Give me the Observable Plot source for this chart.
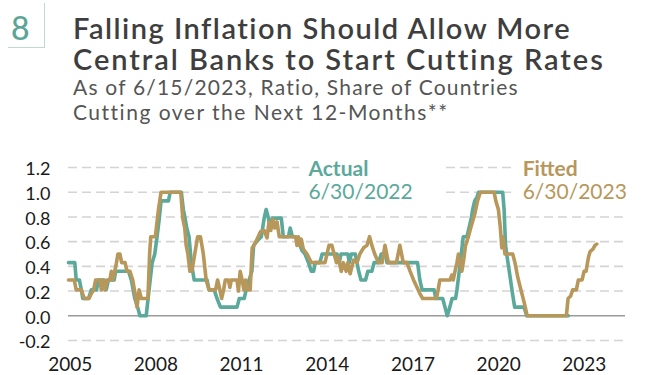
<!DOCTYPE html>
<html>
<head>
<meta charset="utf-8">
<script src="https://cdn.jsdelivr.net/npm/d3@7"></script>
<script src="https://cdn.jsdelivr.net/npm/@observablehq/plot@0.6"></script>
<style>
  html, body { margin: 0; padding: 0; background: #fff; }
  #wrap { position: relative; width: 655px; height: 375px; overflow: hidden; font-family: Lato, "Open Sans", sans-serif; }
  #head { position: relative; width: 655px; height: 145px; }
  #num { position: absolute; left: 11px; top: 12px; font-size: 32px; line-height: 32px; font-weight: 500; color: #5aa596; }
  #box { position: absolute; left: 8px; top: 3px; width: 36px; height: 44px; border-right: 1.5px solid #c3d8d1; border-bottom: 1.5px solid #c3d8d1; }
  .title { position: absolute; left: 73px; font-size: 29px; line-height: 29px; font-weight: 600; color: #3e3e3e; white-space: nowrap; letter-spacing: 1.5px; }
  .sub { position: absolute; left: 73px; font-size: 21px; line-height: 24px; font-weight: 400; color: #555; white-space: nowrap; letter-spacing: 1.2px; }
  #chart svg { display: block; }
</style>
</head>
<body>
<div id="wrap">
  <div id="head">
    <div id="box"></div>
    <div id="num">8</div>
    <div class="title" style="top:12.5px">Falling Inflation Should Allow More</div>
    <div class="title" style="top:43.5px; letter-spacing: 1.95px">Central Banks to Start Cutting Rates</div>
    <div class="sub" style="top:74.5px">As of 6/15/2023, Ratio, Share of Countries</div>
    <div class="sub" style="top:100px; letter-spacing: 1.5px">Cutting over the Next 12-Months**</div>
  </div>
  <div id="chart"></div>
</div>
<script>
// ---- data ----
const actualYears = [2005.00,2005.22,2005.27,2005.38,2005.45,2005.50,2005.70,2005.80,2005.98,2006.05,2006.25,2006.32,2006.40,2006.60,2006.65,2007.10,2007.20,2007.32,2007.42,2007.50,2007.72,2007.82,2007.93,2008.02,2008.10,2008.18,2008.24,2008.50,2008.56,2008.95,2009.02,2009.08,2009.14,2009.22,2009.30,2009.40,2009.85,2009.92,2010.10,2010.20,2010.32,2010.90,2010.98,2011.15,2011.22,2011.32,2011.42,2011.48,2011.62,2011.75,2011.85,2011.92,2012.00,2012.06,2012.14,2012.45,2012.52,2012.70,2012.76,2012.84,2012.95,2013.05,2013.17,2013.28,2013.40,2013.50,2013.58,2013.64,2013.80,2013.88,2014.40,2014.48,2014.54,2014.78,2014.83,2014.90,2015.04,2015.10,2015.16,2015.24,2015.40,2015.48,2015.62,2015.70,2015.85,2015.95,2016.10,2016.15,2017.22,2017.30,2017.38,2017.80,2017.86,2018.10,2018.18,2018.26,2018.35,2018.43,2018.55,2018.60,2018.68,2018.75,2018.82,2018.95,2019.02,2019.10,2019.15,2019.22,2019.30,2019.36,2020.20,2020.25,2020.30,2020.36,2020.45,2020.55,2020.62,2020.95,2021.04,2022.50];
const actualValues = [0.43,0.43,0.29,0.29,0.21,0.14,0.14,0.21,0.21,0.29,0.29,0.21,0.29,0.29,0.36,0.36,0.29,0.14,0.07,0.00,0.00,0.21,0.43,0.50,0.64,0.79,0.93,0.93,1.00,1.00,0.86,0.79,0.71,0.64,0.43,0.29,0.29,0.21,0.21,0.14,0.07,0.07,0.14,0.14,0.21,0.29,0.36,0.57,0.61,0.64,0.79,0.86,0.79,0.71,0.79,0.79,0.64,0.64,0.71,0.64,0.64,0.61,0.53,0.50,0.43,0.36,0.36,0.43,0.43,0.50,0.50,0.43,0.50,0.50,0.43,0.50,0.50,0.43,0.36,0.29,0.29,0.36,0.36,0.43,0.43,0.50,0.50,0.43,0.43,0.29,0.21,0.21,0.14,0.14,0.07,0.00,0.07,0.14,0.14,0.21,0.36,0.50,0.64,0.64,0.71,0.79,0.86,0.93,0.96,1.00,1.00,0.86,0.57,0.47,0.33,0.17,0.07,0.07,0.00,0.00];

const fittedYears = [2005.00,2005.20,2005.27,2005.45,2005.55,2005.72,2005.80,2005.88,2005.95,2006.10,2006.15,2006.22,2006.28,2006.35,2006.45,2006.50,2006.55,2006.62,2006.68,2006.73,2006.80,2006.86,2006.98,2007.05,2007.15,2007.25,2007.33,2007.40,2007.47,2007.55,2007.78,2007.84,2007.88,2008.04,2008.15,2008.24,2008.93,2009.00,2009.07,2009.12,2009.18,2009.25,2009.32,2009.42,2009.52,2009.62,2009.72,2009.82,2009.92,2010.15,2010.22,2010.30,2010.36,2010.43,2010.49,2010.60,2010.65,2010.70,2010.90,2010.95,2011.01,2011.08,2011.14,2011.20,2011.26,2011.36,2011.43,2011.50,2011.60,2011.72,2011.85,2011.95,2012.02,2012.08,2012.16,2012.22,2012.30,2012.38,2012.95,2013.00,2013.05,2013.10,2013.15,2013.22,2013.35,2013.50,2013.98,2014.05,2014.12,2014.22,2014.30,2014.38,2014.44,2014.55,2014.62,2014.72,2014.78,2014.86,2014.98,2015.10,2015.20,2015.33,2015.45,2015.54,2015.62,2015.72,2015.85,2015.98,2016.08,2016.20,2016.48,2016.60,2016.72,2016.85,2016.96,2017.08,2017.20,2017.30,2017.40,2017.88,2017.94,2018.00,2018.36,2018.42,2018.47,2018.53,2018.60,2018.65,2018.72,2018.77,2018.84,2018.90,2019.00,2019.08,2019.23,2019.32,2019.42,2019.90,2019.96,2020.05,2020.12,2020.17,2020.21,2020.28,2020.55,2020.63,2020.73,2020.85,2020.96,2021.06,2022.43,2022.49,2022.58,2022.65,2022.78,2022.85,2022.98,2023.05,2023.12,2023.20,2023.26,2023.36,2023.43,2023.49];
const fittedValues = [0.29,0.29,0.21,0.21,0.14,0.14,0.18,0.21,0.29,0.29,0.21,0.29,0.21,0.29,0.29,0.36,0.29,0.36,0.43,0.50,0.50,0.43,0.43,0.36,0.36,0.29,0.18,0.07,0.21,0.14,0.14,0.50,0.64,0.64,0.86,1.00,1.00,0.79,0.71,0.57,0.50,0.36,0.36,0.50,0.64,0.64,0.50,0.29,0.21,0.21,0.29,0.21,0.14,0.21,0.29,0.29,0.23,0.29,0.29,0.20,0.36,0.29,0.21,0.29,0.21,0.21,0.55,0.57,0.62,0.68,0.69,0.63,0.76,0.69,0.78,0.71,0.76,0.64,0.64,0.57,0.64,0.57,0.62,0.54,0.50,0.43,0.43,0.50,0.57,0.57,0.50,0.43,0.48,0.36,0.43,0.36,0.43,0.34,0.45,0.43,0.50,0.55,0.57,0.64,0.57,0.50,0.43,0.43,0.57,0.43,0.43,0.57,0.43,0.43,0.36,0.29,0.23,0.18,0.14,0.14,0.21,0.29,0.29,0.33,0.29,0.36,0.43,0.50,0.43,0.36,0.46,0.57,0.64,0.71,0.83,0.93,1.00,1.00,0.93,0.86,0.71,0.55,0.64,0.50,0.50,0.43,0.31,0.20,0.10,0.00,0.00,0.14,0.16,0.21,0.21,0.29,0.29,0.36,0.36,0.47,0.52,0.54,0.57,0.58];

const xTicks = [2005, 2008, 2011, 2014, 2017, 2020, 2023];
const yTicks = [-0.2, 0, 0.2, 0.4, 0.6, 0.8, 1.0, 1.2];

const seriesNames = ["Actual", "Fitted"];
const seriesDates = ["6/30/2022", "6/30/2023"];
const labelYears = [2013.4, 2020.9];
const seriesColors = ["#5ba99b", "#b8975a"];

// ---- build tables ----
const actual = actualYears.map((t, i) => ({t, v: actualValues[i]}));
const fitted = fittedYears.map((t, i) => ({t, v: fittedValues[i]}));
const labels = seriesNames.map((name, i) => ({name, date: seriesDates[i], t: labelYears[i], color: seriesColors[i]}));

const font = "Lato, 'Open Sans', sans-serif";

const chart = Plot.plot({
  width: 655,
  height: 230,
  marginLeft: 68,
  marginRight: 30,
  marginTop: 22,
  marginBottom: 35,
  style: {fontFamily: font, background: "white"},
  x: {domain: [2005, 2024.5], label: null},
  y: {domain: [-0.2, 1.2], label: null},
  marks: [
    Plot.ruleY(yTicks.filter(d => d !== 0), {stroke: "#d4d4d4", strokeWidth: 1.6, strokeDasharray: "9,5"}),
    Plot.ruleY([0], {stroke: "#9a9a9a", strokeWidth: 1.6}),
    Plot.rect(labels, {x1: d => d.t - 0.3, x2: d => Math.min(d.t + 4.8, 2024.5), y1: 0.9, y2: 1.3, fill: "white"}),
    Plot.line(actual, {x: "t", y: "v", stroke: seriesColors[0], strokeWidth: 3.6, strokeLinejoin: "round"}),
    Plot.line(fitted, {x: "t", y: "v", stroke: seriesColors[1], strokeWidth: 3.6, strokeLinejoin: "round"}),
    Plot.text(labels, {x: "t", y: 1.2, text: "name", fill: "color", textAnchor: "start", lineAnchor: "middle", dy: 2, fontSize: 21, fontWeight: 700, style: {letterSpacing: "1.2px"}}),
    Plot.text(labels, {x: "t", y: 1.0, text: "date", fill: "color", textAnchor: "start", lineAnchor: "middle", dy: 0, fontSize: 21, fontWeight: 400, style: {letterSpacing: "1.2px"}}),
    Plot.axisY({ticks: yTicks, tickFormat: d => d.toFixed(1), tickSize: 0, tickPadding: 18, fontSize: 18, dy: 2, fill: "#1a1a1a", style: {letterSpacing: "2px"}}),
    Plot.axisX({ticks: xTicks, tickFormat: d => String(d), tickSize: 0, tickPadding: 17, fontSize: 19, dx: 1.7, fill: "#1a1a1a", style: {letterSpacing: "3.4px"}})
  ]
});
document.getElementById("chart").appendChild(chart);
</script>
</body>
</html>
